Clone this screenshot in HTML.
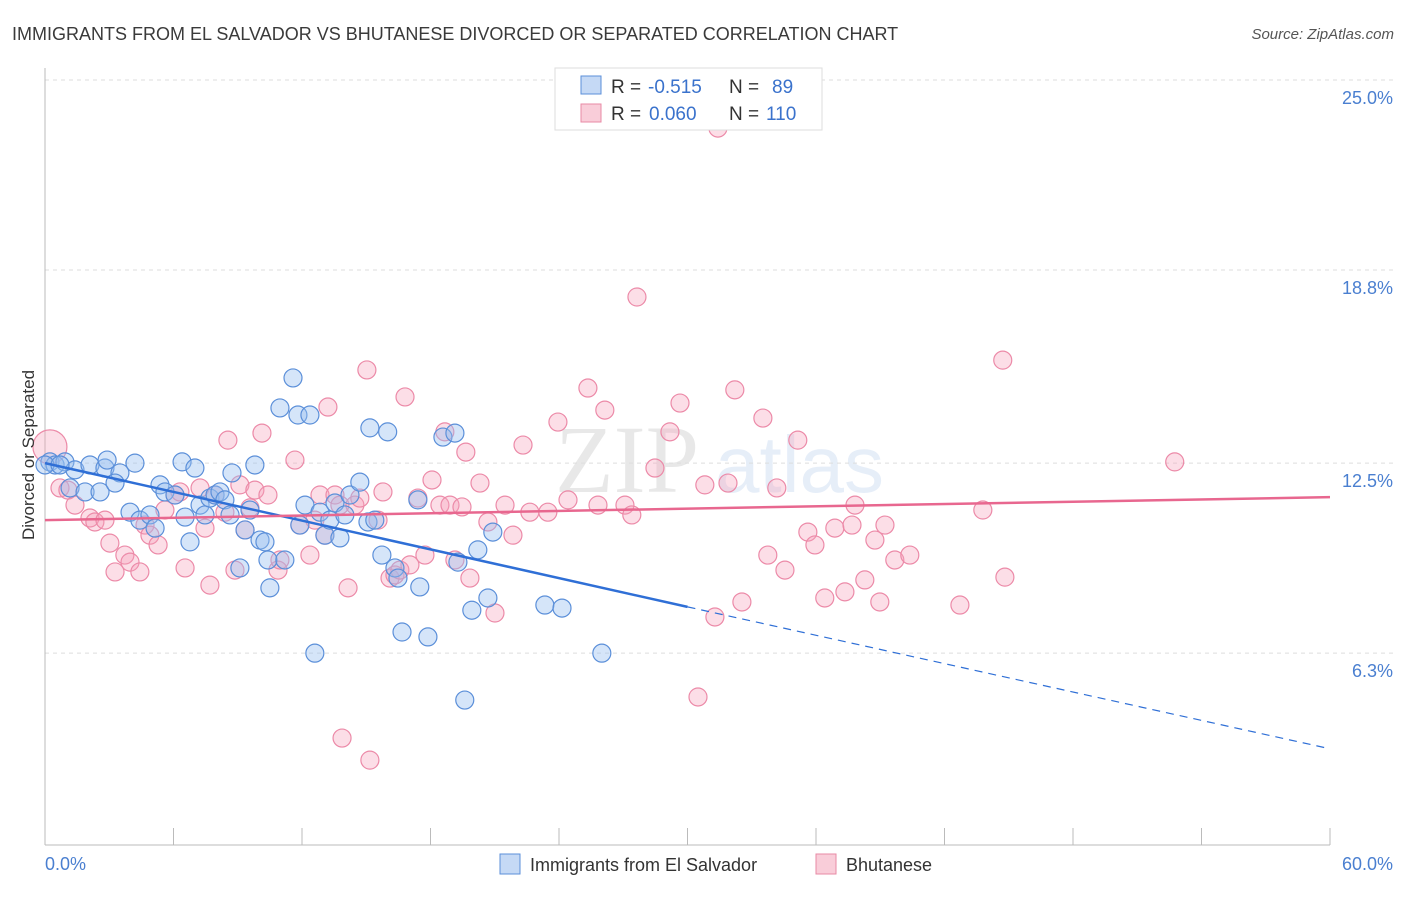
<!DOCTYPE html>
<html><head><meta charset="utf-8"><style>
body{margin:0;background:#fff;font-family:"Liberation Sans",sans-serif;}
</style></head><body>
<svg id="chart" width="1406" height="892" xmlns="http://www.w3.org/2000/svg" font-family="Liberation Sans, sans-serif">
<text x="12" y="40" font-size="18" fill="#3a3a3a">IMMIGRANTS FROM EL SALVADOR VS BHUTANESE DIVORCED OR SEPARATED CORRELATION CHART</text>
<text x="1394" y="39" font-size="15" fill="#555" font-style="italic" text-anchor="end">Source: ZipAtlas.com</text>
<g opacity="0.13">
<text x="555" y="492" font-size="96" font-family="Liberation Serif, serif" fill="#555">ZIP</text>
<text x="715" y="492" font-size="80" fill="#4a7fd0">atlas</text>
</g>
<g id="grid"></g>
<g id="axes"></g>
<g id="points"></g>
<g id="trends"></g>
<text transform="translate(34,455) rotate(-90)" font-size="17" fill="#333" text-anchor="middle">Divorced or Separated</text>
<text x="45" y="870" font-size="18" fill="#4a7fd0">0.0%</text>
<text x="1393" y="870" font-size="18" fill="#4a7fd0" text-anchor="end">60.0%</text>
<g>
<rect x="555" y="68" width="267" height="62" fill="#fff" stroke="#ddd"/>
<rect x="581" y="76" width="20" height="18" fill="#c5d9f5" stroke="#5b8fd9"/>
<rect x="581" y="104" width="20" height="18" fill="#f9cdd9" stroke="#e88aa5"/>
<text x="611" y="93" font-size="19" fill="#333">R =</text>
<text x="648" y="93" font-size="19" fill="#3a72cc">-0.515</text>
<text x="729" y="93" font-size="19" fill="#333">N =</text>
<text x="772" y="93" font-size="19" fill="#3a72cc">89</text>
<text x="611" y="120" font-size="19" fill="#333">R =</text>
<text x="649" y="120" font-size="19" fill="#3a72cc">0.060</text>
<text x="729" y="120" font-size="19" fill="#333">N =</text>
<text x="766" y="120" font-size="19" fill="#3a72cc">110</text>
</g>
<g>
<rect x="500" y="854" width="20" height="20" fill="#c5d9f5" stroke="#5b8fd9"/>
<text x="530" y="871" font-size="18" fill="#333">Immigrants from El Salvador</text>
<rect x="816" y="854" width="20" height="20" fill="#f9cdd9" stroke="#e88aa5"/>
<text x="846" y="871" font-size="18" fill="#333">Bhutanese</text>
</g>
</svg>
<script>
const yTicks=[25.0,18.8,12.5,6.3];
const yTickLabels=["25.0%","18.8%","12.5%","6.3%"];
const xTicks=[0,6,12,18,24,30,36,42,48,54,60];
const blueX=[0.23,0.47,0.93,1.4,2.1,2.8,2.9,3.5,4.2,1.17,1.87,2.57,3.27,3.97,4.43,4.9,5.14,5.37,5.6,6.07,6.4,6.54,6.77,7.0,7.24,7.47,7.7,7.94,8.17,8.4,8.64,8.73,9.1,9.34,9.57,9.8,10.04,10.27,10.41,10.5,10.97,11.2,11.58,11.81,11.9,12.14,12.37,12.6,12.84,13.07,13.3,13.54,13.77,14.0,14.24,14.7,15.08,15.17,15.4,15.73,16.0,16.34,16.48,16.67,17.41,17.5,17.88,18.58,19.14,19.28,19.6,19.93,20.21,20.68,20.91,23.34,24.14,26.0,0,0.7];
const blueY=[12.54,12.44,12.54,12.28,12.44,12.34,12.6,12.18,12.5,11.69,11.56,11.56,11.85,10.9,10.64,10.81,10.38,11.79,11.56,11.46,12.54,10.74,9.93,12.34,11.13,10.81,11.36,11.46,11.56,11.3,10.81,12.18,9.08,10.32,10.97,12.44,9.99,9.93,9.34,8.43,14.3,9.34,15.28,14.07,10.48,11.13,14.07,6.3,10.9,10.15,10.64,11.2,10.06,10.81,11.46,11.88,10.58,13.65,10.64,9.5,13.52,9.08,8.75,6.99,11.3,8.46,6.83,13.35,13.48,9.27,4.77,7.7,9.67,8.1,10.25,7.87,7.77,6.3,12.44,12.44];
const pinkX=[0.23,0.7,1.07,1.4,2.1,2.33,2.8,3.03,3.27,3.73,3.97,4.43,4.67,4.9,5.28,5.6,6.07,6.3,6.54,7.24,7.47,7.7,7.94,8.4,8.54,8.87,9.1,9.34,9.57,9.8,10.13,10.41,10.88,10.97,11.67,11.9,12.37,12.6,12.84,13.07,13.21,13.54,13.77,14.15,14.47,14.7,13.87,15.03,15.17,15.55,15.78,16.11,16.34,16.57,16.81,17.04,17.41,17.74,18.07,18.44,18.67,18.91,19.14,19.47,19.65,19.84,20.31,20.68,21.01,21.48,21.85,22.32,22.64,23.48,23.95,24.42,25.35,25.82,26.14,27.08,27.4,27.64,28.48,29.18,29.65,30.49,30.81,31.28,31.42,31.89,32.21,32.54,33.52,33.75,34.17,34.55,35.15,35.62,35.95,36.41,36.88,37.35,37.68,37.82,38.28,38.75,38.98,39.22,39.68,40.38,42.72,43.79,44.72,44.82,52.75];
const pinkY=[13.03,11.69,11.62,11.13,10.71,10.58,10.64,9.89,8.95,9.5,9.27,8.95,10.48,10.15,9.83,10.97,11.46,11.56,9.08,11.69,10.38,8.52,11.46,10.9,13.25,9.01,11.79,10.32,11.04,11.62,13.48,11.46,9.01,9.34,12.6,10.48,9.5,10.64,11.46,10.15,14.33,11.46,11.13,8.43,11.13,11.36,3.53,15.54,2.81,10.64,11.56,8.75,8.85,9.01,14.66,9.18,11.36,9.5,11.95,11.13,13.52,11.13,9.34,11.07,12.86,8.75,11.85,10.58,7.61,11.13,10.15,13.09,10.9,10.9,13.84,11.3,14.95,11.13,14.23,11.13,10.81,17.92,12.34,13.52,14.46,4.87,11.79,7.48,23.43,11.85,14.89,7.97,13.97,9.5,11.69,9.01,13.25,10.25,9.83,8.1,10.38,8.3,10.48,11.13,8.69,9.99,7.97,10.48,9.34,9.5,7.87,10.97,15.86,8.78,12.54];
const blueTrend=[12.5,7.81,3.18]; // at x=0,30,60
const pinkTrend=[10.64,11.39]; // at x=0,60

const X=v=>45+v/60*1285;
const Y=v=>80+(25-v)*30.65;
const NS="http://www.w3.org/2000/svg";
function mk(tag,parent,attrs){const e=document.createElementNS(NS,tag);for(const k in attrs)e.setAttribute(k,attrs[k]);document.getElementById(parent).appendChild(e);return e;}

yTicks.forEach((t,i)=>{
  const l=mk('line','grid',{x1:45,x2:1395,y1:Y(t),y2:Y(t),stroke:'#ddd','stroke-dasharray':'4,4'});
  
  
  const tx=mk('text','grid',{x:1393,y:Y(t)+24,'font-size':18,fill:'#4a7fd0','text-anchor':'end'});
  tx.textContent=yTickLabels[i];
  
  
});
const ax=mk('line','axes',{x1:45,x2:45,y1:68,y2:845,stroke:'#bbb'});


const bx=mk('line','axes',{x1:45,x2:1330,y1:845,y2:845,stroke:'#bbb'});


xTicks.forEach(t=>{
  const l=mk('line','axes',{x1:X(t),x2:X(t),y1:828,y2:845,stroke:'#bbb'});
  
  
});
pinkX.forEach((v,i)=>{
  const c=mk('circle','points',{cx:X(v),cy:Y(pinkY[i]),r:i===0?17:9,fill:'rgba(245,160,185,0.35)',stroke:'#ec8aa8','stroke-width':1.2});
  
  
});
blueX.forEach((v,i)=>{
  const c=mk('circle','points',{cx:X(v),cy:Y(blueY[i]),r:9,fill:'rgba(150,190,240,0.4)',stroke:'#5b8fd9','stroke-width':1.2});
  
  
});
const b1=mk('line','trends',{x1:X(0),y1:Y(blueTrend[0]),x2:X(30),y2:Y(blueTrend[1]),stroke:'#2f6fd6','stroke-width':2.5});


const b2=mk('line','trends',{x1:X(30),y1:Y(blueTrend[1]),x2:X(60),y2:Y(blueTrend[2]),stroke:'#2f6fd6','stroke-width':1.2,'stroke-dasharray':'8,6'});


const p1=mk('line','trends',{x1:X(0),y1:Y(pinkTrend[0]),x2:X(60),y2:Y(pinkTrend[1]),stroke:'#e8678f','stroke-width':2.5});


</script>
</body></html>
